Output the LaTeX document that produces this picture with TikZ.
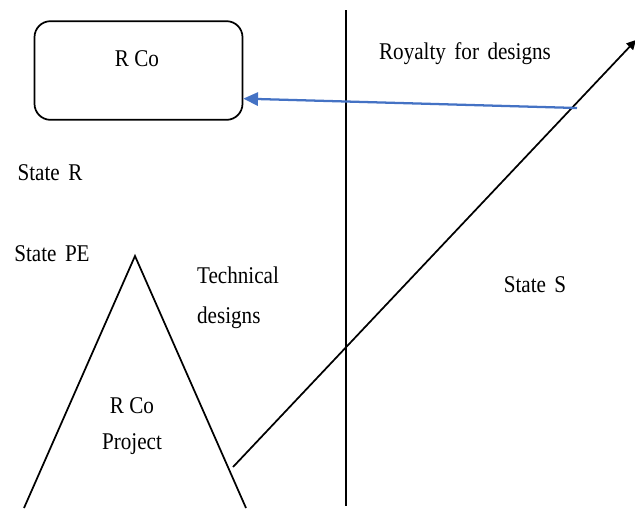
\documentclass[tikz,border=0pt]{standalone}
\usepackage{fontspec}
\setmainfont{Liberation Serif}
\usetikzlibrary{arrows.meta,calc}
\newcommand\widespaces{\spaceskip=0.4em plus 0.1em\relax}

\begin{document}
\begin{tikzpicture}[
    x=0.75pt, y=-0.75pt,
    every node/.style={font=\fontsize{18}{21}\selectfont, xscale=0.88},
    wide words/.style={font=\fontsize{18}{21}\selectfont\widespaces},
    rco box/.style={draw, line width=1.3pt, rounded corners=12pt,
        minimum width=156pt, minimum height=74pt, xscale=1/0.88},
    border/.style={line width=1.3pt},
    flow/.style={line width=1.3pt, -{Triangle[length=7pt, width=7pt]}},
    royalty/.style={line width=1.7pt, draw=royaltyblue,
        -{Triangle[length=11pt, width=10pt]}}
]
\definecolor{royaltyblue}{RGB}{68,114,196}   % Blue arrow
\useasboundingbox (0,0) rectangle (635,508);

% Company R
\node[rco box] (rco) at (138.5,70.5) {};
\node (rconame) at (137,59) {R Co};

% States
\node[wide words] (stater) at (50,173) {State R};
\node[wide words] (statepe) at (52,254) {State PE};
\node[wide words] (states) at (535,285) {State S};

% Border between the states
\coordinate (bordertop) at (346,10);
\coordinate (borderbot) at (346,506);
\draw[border] (bordertop) -- (borderbot);

% Project in State PE
\coordinate (apex) at (135,256);
\coordinate (baseleft) at (24,508);
\coordinate (baseright) at (246,508);
\draw[border] (baseleft) -- (apex) -- (baseright);
\node[align=center] (project) at (132,426) {R Co\\[6pt]Project};

% Technical designs
\node[align=left] (tech) at (238,298) {Technical\\[9pt]designs};
\coordinate (designstart) at (233,467);
\coordinate (designend) at (636,40);
\draw[flow] (designstart) -- (designend);

% Royalty payment
\node[wide words] (royaltylabel) at (465,54) {Royalty for designs};
\coordinate (payfrom) at (577,108);
\coordinate (payto) at ($(rco.north east)!0.78!(rco.south east)$);
\draw[royalty] (payfrom) -- (payto);

\end{tikzpicture}
\end{document}
